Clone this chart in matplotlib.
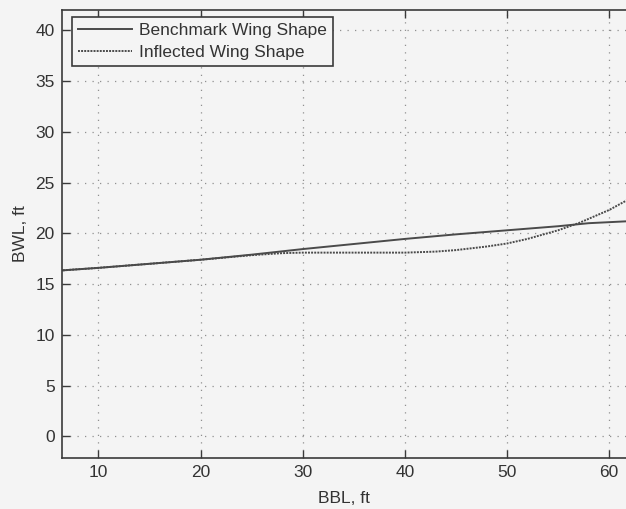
import matplotlib
matplotlib.use('Agg')
import matplotlib.pyplot as plt

# DATA
bbl_bench = [5.0, 10, 15, 20, 25, 30, 35, 40, 45, 50, 55, 58, 60, 62, 65]
bwl_bench = [16.25, 16.6, 17.0, 17.4, 17.9, 18.45, 18.95, 19.45, 19.9, 20.3, 20.7, 21.0, 21.1, 21.2, 21.4]

bbl_infl = [5.0, 10, 15, 20, 25, 28, 30, 35, 40, 43, 45, 48, 50, 52, 55, 57, 60, 62, 65]
bwl_infl = [16.25, 16.6, 17.0, 17.4, 17.85, 18.05, 18.1, 18.1, 18.1, 18.2, 18.35, 18.7, 19.0, 19.45, 20.3, 21.0, 22.3, 23.4, 25.2]

x_ticks = [10, 20, 30, 40, 50, 60]
y_ticks = [0, 5, 10, 15, 20, 25, 30, 35, 40]

plt.rcParams['font.family'] = ['Liberation Sans', 'DejaVu Sans']

BG = '#f4f4f4'
INK = '#3a3a3a'
FS = 12.5

fig = plt.figure(figsize=(6.26, 5.09), dpi=100, facecolor=BG)
# axes box in pixels: left 61.7, right 627 (cropped), top 10, bottom 457.7
W, H = 626.0, 509.0
ax = fig.add_axes([61.7 / W, (H - 457.7) / H, (627 - 61.7) / W, (457.7 - 10) / H])
ax.set_facecolor(BG)

ax.plot(bbl_bench, bwl_bench, color='#4a4a4a', lw=1.4, ls='-', label='Benchmark Wing Shape')
ax.plot(bbl_infl, bwl_infl, color='#4a4a4a', lw=1.4, ls=(0, (1, 0.6)), label='Inflected Wing Shape')

ax.set_xlim(6.4, 61.75)
ax.set_ylim(-2.1, 42)
ax.set_xticks(x_ticks)
ax.set_yticks(y_ticks)

ax.grid(True, color='#909090', ls=(0, (1, 5)), lw=0.9)
ax.tick_params(direction='in', length=6, width=1.0, color=INK, labelsize=FS,
               labelcolor='#333333', top=True, right=False, pad=5)
for side in ['left', 'bottom', 'top']:
    ax.spines[side].set_color(INK)
    ax.spines[side].set_linewidth(1.2)
ax.spines['right'].set_visible(False)

ax.set_xlabel('BBL, ft', fontsize=FS, color='#333333', labelpad=8)
ax.set_ylabel('BWL, ft', fontsize=FS, color='#333333', labelpad=5)

leg = ax.legend(loc='upper left', bbox_to_anchor=(10.3 / 565.3, 1 - 7 / 447.7),
                fontsize=FS, frameon=True, fancybox=False, handlelength=3.1,
                borderpad=0.35, labelspacing=0.38, handletextpad=0.4,
                borderaxespad=0)
leg.get_frame().set_edgecolor(INK)
leg.get_frame().set_linewidth(1.2)
leg.get_frame().set_facecolor(BG)
leg.get_frame().set_alpha(1)
for t in leg.get_texts():
    t.set_color('#333333')

fig.savefig('out.png', dpi=100, facecolor=BG)
